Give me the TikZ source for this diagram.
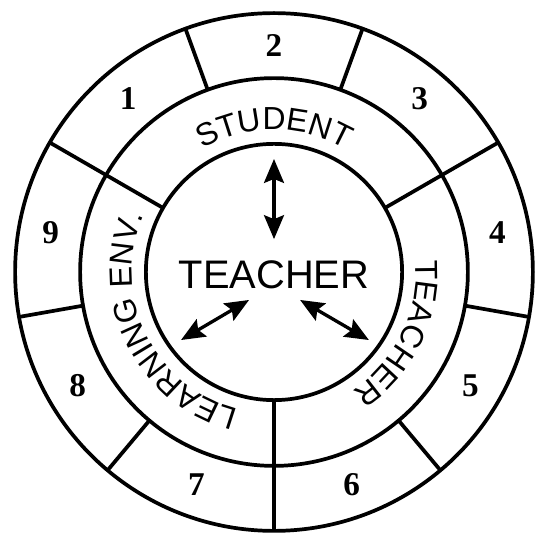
\documentclass[tikz,border=0pt]{standalone}
\usepackage{fontspec}
\setmainfont{Liberation Serif}
\setsansfont{Liberation Sans}
\usetikzlibrary{arrows.meta,decorations.text}
\newcommand\ringfont{\fontsize{24}{28}\selectfont\sffamily}

\begin{document}
\begin{tikzpicture}[x=1cm,y=1cm,
  rim/.style={line width=2.8pt},
  twoway/.style={line width=2.5pt, {Stealth[length=18pt,width=15pt,inset=3pt]}-{Stealth[length=18pt,width=15pt,inset=3pt]}},
  num/.style={font=\fontsize{25}{29}\selectfont\bfseries},
  ringtext/.style={decorate, decoration={text along path, text align=center, text={|\ringfont|#1}}}]
\useasboundingbox (-7.25,-6.88) rectangle (6.906,7.197);
\draw[rim] (0,0) circle (6.85);
\draw[rim] (0,0) circle (5.13);
\draw[rim] (0,0) circle (3.39);
% spokes through the middle ring
\foreach \a in {150,30,-90} \draw[rim] (\a:3.39) -- (\a:6.85);
\foreach \a in {110,70,-10,-50,-130,-170} \draw[rim] (\a:5.13) -- (\a:6.85);
\foreach \i in {1,...,9} \node[num] (n\i) at ({170-40*\i}:6.0) {\i};
\path[ringtext=STUDENT] (135:3.76) arc[start angle=135, end angle=45, radius=3.76];
\path[ringtext=TEACHER] (20:3.76) arc[start angle=20, end angle=-72, radius=3.76];
\path[ringtext={LEARNING ENV.}] (262:3.76) arc[start angle=262, end angle=150, radius=3.76];
\node[font=\fontsize{30}{34}\selectfont\sffamily] (t) at (0,-0.07) {TEACHER};
\coordinate (s) at (0,2.99);
\coordinate (sa) at (0,0.87);
\coordinate (l) at (-2.46,-1.80);
\coordinate (la) at (-0.66,-0.74);
\coordinate (r) at (2.51,-1.80);
\coordinate (ra) at (0.69,-0.74);
\draw[twoway] (s) -- (sa);
\draw[twoway] (l) -- (la);
\draw[twoway] (ra) -- (r);
\end{tikzpicture}
\end{document}
